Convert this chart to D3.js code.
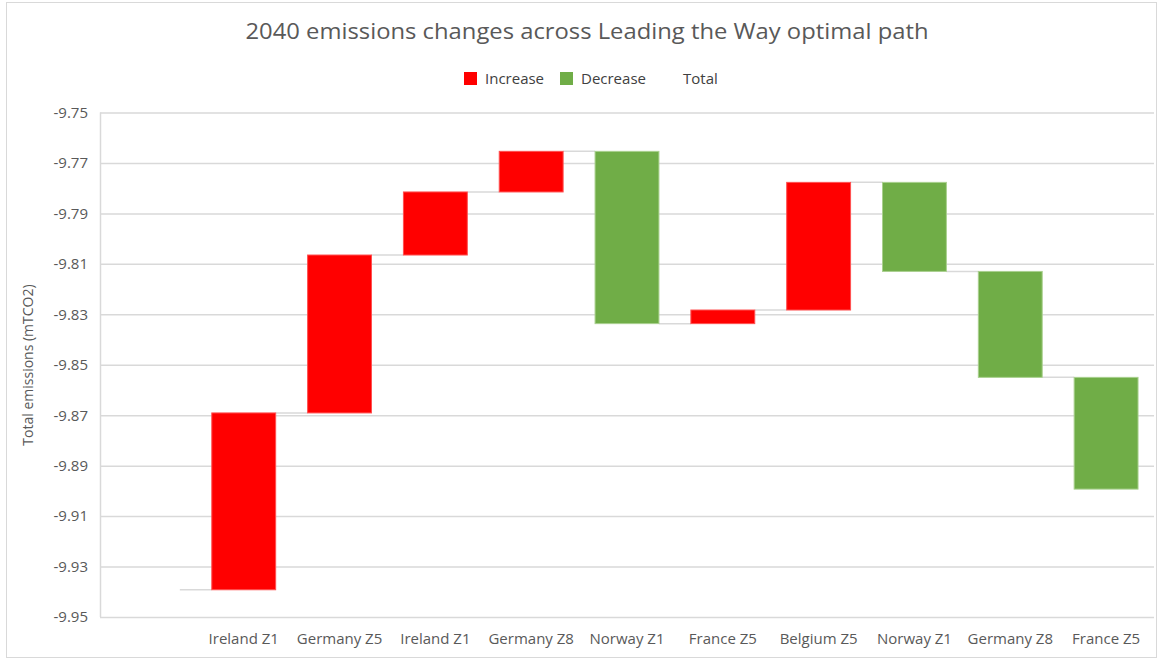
<!DOCTYPE html>
<html>
<head>
<meta charset="utf-8">
<script src="https://cdn.jsdelivr.net/npm/d3@7"></script>
<style>
  html, body { margin: 0; padding: 0; background: #fff; }
  svg { display: block; font-family: "Open Sans", "Liberation Sans", sans-serif; }
</style>
</head>
<body>
<svg id="chart" width="1159" height="660"></svg>
<script>
// ---- data ----
const categories = ["", "Ireland Z1", "Germany Z5", "Ireland Z1", "Germany Z8", "Norway Z1", "France Z5", "Belgium Z5", "Norway Z1", "Germany Z8", "France Z5"];
const startTotal = -9.9392;
const changes = [0.0701, 0.0626, 0.0250, 0.0161, -0.0683, 0.0054, 0.0506, -0.0353, -0.0420, -0.0443];
const yTicks = [-9.75, -9.77, -9.79, -9.81, -9.83, -9.85, -9.87, -9.89, -9.91, -9.93, -9.95];
const legendItems = ["Increase", "Decrease", "Total"];
const titleText = "2040 emissions changes across Leading the Way optimal path";
const yTitle = "Total emissions (mTCO2)";

// ---- build waterfall rows ----
const rows = [];
rows.push({ key: 0, label: categories[0], start: startTotal, end: startTotal, type: "Total" });
let level = startTotal;
changes.forEach((c, i) => {
  const s = level; level = level + c;
  rows.push({ key: i + 1, label: categories[i + 1], start: s, end: level, type: c >= 0 ? "Increase" : "Decrease" });
});

const colors = { Increase: "#FF0000", Decrease: "#70AD47", Total: "none" };
const strokes = { Increase: "#FF5050", Decrease: "#A9D08E", Total: "none" };

const svg = d3.select("#chart");
const W = 1159, H = 660;

// chart border
svg.append("rect").attr("x", 6.5).attr("y", 2.5).attr("width", W - 9).attr("height", H - 5)
  .attr("fill", "#fff").attr("stroke", "#D9D9D9").attr("stroke-width", 1);

const x = d3.scaleBand().domain(rows.map(d => d.key)).range([100, 1154]).paddingInner(1/3).paddingOuter(1/6);
const y = d3.scaleLinear().domain([-9.95, -9.75]).range([617, 112.5]);

// gridlines
const gAxis = svg.append("g").attr("transform", "translate(100,0)")
  .call(d3.axisLeft(y).tickValues(yTicks).tickSize(-1054).tickFormat(d => d.toFixed(2)).tickPadding(10));
gAxis.select(".domain").remove();
gAxis.selectAll(".tick line").attr("stroke", "#D9D9D9").attr("stroke-width", 1.5);
gAxis.selectAll(".tick text").attr("fill", "#595959").attr("font-size", 15)
  .attr("font-family", "'Open Sans', sans-serif").attr("x", -12);

// vertical axis line
svg.append("line").attr("x1", 100.5).attr("x2", 100.5).attr("y1", y(-9.75)).attr("y2", y(-9.95))
  .attr("stroke", "#D9D9D9").attr("stroke-width", 1.5);

// connectors
const conn = svg.append("g");
rows.slice(0, -1).forEach((d, i) => {
  const next = rows[i + 1];
  conn.append("line")
    .attr("x1", x(d.key) + x.bandwidth()).attr("x2", x(next.key))
    .attr("y1", y(d.end)).attr("y2", y(d.end))
    .attr("stroke", "#D9D9D9").attr("stroke-width", 1.5);
});

// bars
svg.append("g").selectAll("rect").data(rows).join("rect")
  .attr("x", d => x(d.key))
  .attr("width", x.bandwidth())
  .attr("y", d => y(Math.max(d.start, d.end)))
  .attr("height", d => Math.abs(y(d.start) - y(d.end)))
  .attr("fill", d => colors[d.type])
  .attr("stroke", d => strokes[d.type])
  .attr("stroke-width", 1);

// x axis labels
const gx = svg.append("g").attr("transform", "translate(0,617)")
  .call(d3.axisBottom(x).tickFormat(k => categories[k]).tickSize(0).tickPadding(16));
gx.select(".domain").remove();
gx.selectAll(".tick text").attr("fill", "#595959").attr("font-size", 15)
  .attr("font-family", "'Open Sans', sans-serif");

// title
svg.append("text").attr("x", 587).attr("y", 39).attr("text-anchor", "middle")
  .attr("font-size", 22).attr("fill", "#595959").attr("textLength", 683).attr("lengthAdjust", "spacingAndGlyphs")
  .text(titleText);

// y axis title
svg.append("text").attr("transform", "translate(33,365) rotate(-90)").attr("text-anchor", "middle")
  .attr("font-size", 14).attr("fill", "#595959").text(yTitle);

// legend
const legendX = [464, 560, 662];
const lg = svg.append("g");
legendItems.forEach((name, i) => {
  lg.append("rect").attr("x", legendX[i]).attr("y", 72).attr("width", 13).attr("height", 13)
    .attr("fill", colors[name]);
  lg.append("text").attr("x", legendX[i] + 21).attr("y", 84).attr("font-size", 15)
    .attr("fill", "#404040").text(name);
});
</script>
</body>
</html>
